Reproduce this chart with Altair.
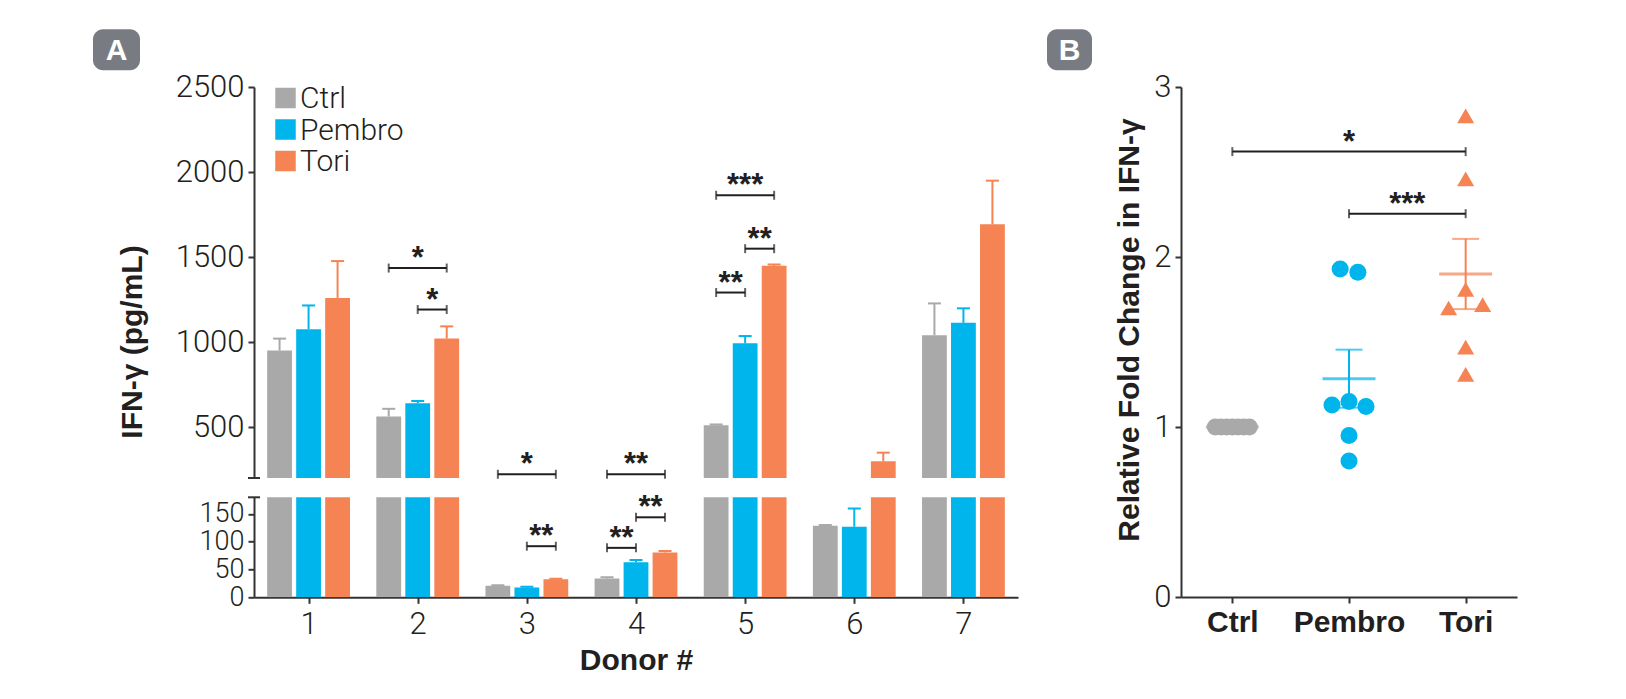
import altair as alt
import pandas as pd

# ---------------- data ----------------
donors = [1, 2, 3, 4, 5, 6, 7]
groups = ["Ctrl", "Pembro", "Tori"]
group_colors = ["#a9a9a9", "#00b5ec", "#f58353"]

ctrl_mean = [950, 562, 21, 34, 510, 129, 1040]
ctrl_sem = [70, 45, 0.5, 2, 5, 1, 187]
pembro_mean = [1075, 639, 17.5, 63, 992, 127, 1113]
pembro_sem = [140, 14, 1.5, 4, 43, 33, 85]
tori_mean = [1259, 1020, 32.5, 80.5, 1449, 298, 1692]
tori_sem = [217, 72, 1, 3, 7, 51, 257]

sigA_donor = [2, 2, 3, 3, 4, 4, 4, 5, 5, 5]
sigA_from = ["Ctrl", "Pembro", "Ctrl", "Pembro", "Ctrl", "Pembro", "Ctrl", "Ctrl", "Pembro", "Ctrl"]
sigA_to = ["Tori", "Tori", "Tori", "Tori", "Tori", "Tori", "Pembro", "Tori", "Tori", "Pembro"]
sigA_y = [1435, 1191, 222, 92, 222, 144, 89, 1863, 1549, 1291]
sigA_label = ["*", "*", "*", "**", "**", "**", "**", "***", "**", "**"]

upper_ticks = [500, 1000, 1500, 2000, 2500]
lower_ticks = [0, 50, 100, 150]

ctrl_fold = [1.0, 1.0, 1.0, 1.0, 1.0, 1.0, 1.0]
pembro_fold = [1.93, 1.91, 1.13, 1.15, 1.12, 0.95, 0.80]
tori_fold = [2.83, 2.46, 1.70, 1.81, 1.72, 1.47, 1.31]
sigB_from = ["Ctrl", "Pembro"]
sigB_to = ["Tori", "Tori"]
sigB_y = [2.62, 2.255]
sigB_label = ["*", "***"]
fold_ticks = [0, 1, 2, 3]

# ---------------- styling / layout ----------------
LIGHT = "Roboto"
BOLD = "Liberation Sans"
TXT = "#231f20"
AX = "#333333"
BADGE = "#787c82"
LABEL_FS = 31
LOWER_FS = 27
TITLE_FS = 30
STAR_FS = 31

A_W, UP_H, LO_H = 764, 391, 100
B_W, B_H = 336, 510
XA_DOM = [0.5, 7.5]
UP_DOM = [200, 2500]
LO_DOM = [0, 180]
XB_DOM = [-0.44, 2.44]
YB_DOM = [0, 3]

pxA = A_W / (XA_DOM[1] - XA_DOM[0])
GSTEP = 29 / pxA
BAR_HALF = 12.4 / pxA
CAP_HALF = 6.5 / pxA
pxB = B_W / (XB_DOM[1] - XB_DOM[0])

cscale = alt.Scale(domain=groups, range=group_colors)
one = pd.DataFrame({"k": [0]})

# ---------------- panel A tables ----------------
means = {"Ctrl": ctrl_mean, "Pembro": pembro_mean, "Tori": tori_mean}
sems = {"Ctrl": ctrl_sem, "Pembro": pembro_sem, "Tori": tori_sem}
rows = []
for gi, g in enumerate(groups):
    for d, m, s in zip(donors, means[g], sems[g]):
        xc = d + (gi - 1) * GSTEP
        rows.append(dict(donor=d, group=g, mean=m, top=m + s, xc=xc,
                         x0=xc - BAR_HALF, x1=xc + BAR_HALF,
                         c0=xc - CAP_HALF, c1=xc + CAP_HALF))
dfA = pd.DataFrame(rows)

goff = {g: (i - 1) * GSTEP for i, g in enumerate(groups)}
srows, erows = [], []
for d, a, b, y, lab in zip(sigA_donor, sigA_from, sigA_to, sigA_y, sigA_label):
    xa, xb = d + goff[a], d + goff[b]
    srows.append(dict(xa=xa, xb=xb, xm=(xa + xb) / 2, y=y, label=lab))
    erows.append(dict(x=xa, y=y))
    erows.append(dict(x=xb, y=y))
dfS = pd.DataFrame(srows)
dfE = pd.DataFrame(erows)


def panel_a(ydom, height, ticks, bottom, break_val, label_fs, extra=()):
    xs = alt.Scale(domain=XA_DOM, nice=False, zero=False)
    ys = alt.Scale(domain=ydom, nice=False, zero=False)
    if bottom:
        xaxis = alt.Axis(values=donors, format="d", title="Donor #",
                         labelPadding=6, titlePadding=6, labelFontSize=LABEL_FS)
    else:
        xaxis = None
    yaxis = alt.Axis(values=ticks, title=None, format="d", labelOverlap=False,
                     labelFontSize=label_fs)
    X = lambda f: alt.X(f, scale=xs, axis=xaxis)
    Y = lambda f: alt.Y(f, scale=ys, axis=yaxis)
    lo, hi = ydom
    s_in = dfS[(dfS.y >= lo) & (dfS.y <= hi)]
    e_in = dfE[(dfE.y >= lo) & (dfE.y <= hi)]

    col = alt.Color("group:N", scale=cscale, legend=None)
    bars = alt.Chart(dfA).mark_bar(clip=True).encode(
        x=X("x0:Q"), x2="x1:Q", y=Y("mean:Q"), y2=alt.datum(0), color=col)
    err = alt.Chart(dfA).mark_rule(clip=True, strokeWidth=2).encode(
        x=X("xc:Q"), y=Y("mean:Q"), y2="top:Q", color=col)
    cap = alt.Chart(dfA).mark_rule(clip=True, strokeWidth=2).encode(
        x=X("c0:Q"), x2="c1:Q", y=Y("top:Q"), color=col)
    layers = [bars, err, cap]
    if len(s_in):
        layers.append(alt.Chart(s_in).mark_rule(color=TXT, strokeWidth=2).encode(
            x=X("xa:Q"), x2="xb:Q", y=Y("y:Q")))
        layers.append(alt.Chart(e_in).mark_tick(orient="vertical", size=9, thickness=2, color=TXT).encode(
            x=X("x:Q"), y=Y("y:Q")))
        layers.append(alt.Chart(s_in).mark_text(font=BOLD, fontSize=STAR_FS, fontWeight="bold",
                                                 color=TXT, baseline="alphabetic", dy=0).encode(
            x=X("xm:Q"), y=Y("y:Q"), text="label:N"))
    layers.append(alt.Chart(one).mark_rule(color=AX, strokeWidth=2).encode(
        x=alt.value(-6), x2=alt.value(6), y=alt.YDatum(break_val, scale=ys, axis=yaxis)))
    layers.extend(extra)
    return alt.layer(*layers).properties(width=A_W, height=height)


# legend, title and badge for panel A (decorations placed in pixels)
deco = []
for i, (g, c) in enumerate(zip(groups, group_colors)):
    deco.append(alt.Chart(one).mark_square(size=420, color=c, opacity=1).encode(
        x=alt.value(31.5), y=alt.value(11 + 31.5 * i)))
    deco.append(alt.Chart(one).mark_text(text=g, align="left", baseline="middle", font=LIGHT,
                                         fontSize=30, fontWeight=300, color=TXT).encode(
        x=alt.value(46), y=alt.value(12 + 31.5 * i)))
deco.append(alt.Chart(one).mark_text(text="IFN-γ (pg/mL)", angle=270, align="center", baseline="middle",
                                     font=BOLD, fontSize=TITLE_FS, fontWeight="bold", color=TXT).encode(
    x=alt.value(-121), y=alt.value(255)))
deco.append(alt.Chart(one).mark_rect(cornerRadius=10, color=BADGE).encode(
    x=alt.value(-161), x2=alt.value(-114), y=alt.value(-57.7), y2=alt.value(-16.7)))
deco.append(alt.Chart(one).mark_text(text="A", align="center", baseline="middle", font=BOLD,
                                     fontSize=30, fontWeight="bold", color="white").encode(
    x=alt.value(-137.5), y=alt.value(-36)))

upper = panel_a(UP_DOM, UP_H, upper_ticks, False, UP_DOM[0], LABEL_FS, deco)
lower = panel_a(LO_DOM, LO_H, lower_ticks, True, LO_DOM[1], LOWER_FS)

panelA = alt.vconcat(upper, lower, spacing=19.3, bounds="flush")

# ---------------- panel B tables ----------------
folds = {"Ctrl": ctrl_fold, "Pembro": pembro_fold, "Tori": tori_fold}


def spread(vals, thr=0.12, step=17.7, maxw=34):
    order = sorted(range(len(vals)), key=lambda i: -vals[i])
    rws = []
    for i in order:
        if rws and vals[rws[-1][0]] - vals[i] <= thr:
            rws[-1].append(i)
        else:
            rws.append([i])
    offs = [0.0] * len(vals)
    for r in rws:
        r = sorted(r)
        k = len(r)
        s = step if k == 1 else min(step, maxw / (k - 1))
        for j, i in enumerate(r):
            offs[i] = (j - (k - 1) / 2) * s
    return offs


prow = []
for gi, g in enumerate(groups):
    offs = spread(folds[g])
    for v, o in zip(folds[g], offs):
        prow.append(dict(group=g, gi=gi, value=v, xj=gi + o / pxB))
dfP = pd.DataFrame(prow)

gidx = {g: i for i, g in enumerate(groups)}
bs, be = [], []
for a, b, y, lab in zip(sigB_from, sigB_to, sigB_y, sigB_label):
    xa, xb = gidx[a], gidx[b]
    bs.append(dict(xa=xa, xb=xb, xm=(xa + xb) / 2, y=y, label=lab))
    be.append(dict(x=xa, y=y))
    be.append(dict(x=xb, y=y))
dfBS = pd.DataFrame(bs)
dfBE = pd.DataFrame(be)

xsB = alt.Scale(domain=XB_DOM, nice=False, zero=False)
ysB = alt.Scale(domain=YB_DOM, nice=False, zero=False)
xaxB = alt.Axis(values=[0, 1, 2], labelExpr="['Ctrl','Pembro','Tori'][datum.value]", title=None,
                labelFont=BOLD, labelFontWeight="bold", labelFontSize=TITLE_FS, labelPadding=4)
yaxB = alt.Axis(values=fold_ticks, title=None, format="d")
XB = lambda f: alt.X(f, scale=xsB, axis=xaxB)
YB = lambda f: alt.Y(f, scale=ysB, axis=yaxB)
colB = alt.Color("group:N", scale=cscale, legend=None)

stats = alt.Chart(dfP).transform_aggregate(
    mean="mean(value)", sd="stdev(value)", n="count()", groupby=["gi", "group"]
).transform_calculate(
    lo="datum.mean - datum.sd / sqrt(datum.n)", hi="datum.mean + datum.sd / sqrt(datum.n)")

b_rule = alt.Chart(dfBS).mark_rule(color=TXT, strokeWidth=2).encode(
    x=XB("xa:Q"), x2="xb:Q", y=YB("y:Q"))
b_ends = alt.Chart(dfBE).mark_tick(orient="vertical", size=9, thickness=2, color=TXT).encode(
    x=XB("x:Q"), y=YB("y:Q"))
b_txt = alt.Chart(dfBS).mark_text(font=BOLD, fontSize=STAR_FS, fontWeight="bold", color=TXT,
                                  baseline="alphabetic", dy=0).encode(
    x=XB("xm:Q"), y=YB("y:Q"), text="label:N")
sem_rule = stats.mark_rule(strokeWidth=2).encode(
    x=XB("gi:Q"), y=YB("lo:Q"), y2="hi:Q", color=colB)
cap_lo = stats.mark_tick(orient="horizontal", size=27, thickness=2).encode(
    x=XB("gi:Q"), y=YB("lo:Q"), color=colB)
cap_hi = stats.mark_tick(orient="horizontal", size=27, thickness=2).encode(
    x=XB("gi:Q"), y=YB("hi:Q"), color=colB)
mean_tick = stats.mark_tick(orient="horizontal", size=53, thickness=3).encode(
    x=XB("gi:Q"), y=YB("mean:Q"), color=colB)
pts = alt.Chart(dfP).mark_point(filled=True, opacity=1, size=290).encode(
    x=XB("xj:Q"), y=YB("value:Q"), color=colB,
    shape=alt.Shape("group:N", scale=alt.Scale(domain=groups, range=["circle", "circle", "triangle-up"]),
                    legend=None))
b_title = alt.Chart(one).mark_text(text="Relative Fold Change in IFN-γ", angle=270, align="center",
                                   baseline="middle", font=BOLD, fontSize=TITLE_FS, fontWeight="bold",
                                   color=TXT).encode(x=alt.value(-51), y=alt.value(243))
b_badge = alt.Chart(one).mark_rect(cornerRadius=10, color=BADGE).encode(
    x=alt.value(-134), x2=alt.value(-89), y=alt.value(-57.7), y2=alt.value(-16.7))
b_letter = alt.Chart(one).mark_text(text="B", align="center", baseline="middle", font=BOLD,
                                    fontSize=30, fontWeight="bold", color="white").encode(
    x=alt.value(-111.5), y=alt.value(-36))

panelB = alt.layer(b_rule, b_ends, b_txt, sem_rule, cap_lo, cap_hi, mean_tick, pts,
                   b_title, b_badge, b_letter).properties(width=B_W, height=B_H)

chart = alt.hconcat(panelA, panelB, spacing=29).properties(
    padding={"left": 85, "top": 21, "right": 5, "bottom": 5}
).configure_view(stroke=None).configure_axis(
    domainColor=AX, domainWidth=2, tickColor=AX, tickWidth=2, tickSize=6,
    labelFont=LIGHT, labelFontSize=LABEL_FS, labelFontWeight=300, labelColor=TXT, labelPadding=4,
    grid=False, titleFont=BOLD, titleFontSize=TITLE_FS, titleFontWeight="bold", titleColor=TXT
).configure_axisY(labelOverlap=False)

chart.save("out.html", embed_options={"renderer": "svg", "actions": False})
